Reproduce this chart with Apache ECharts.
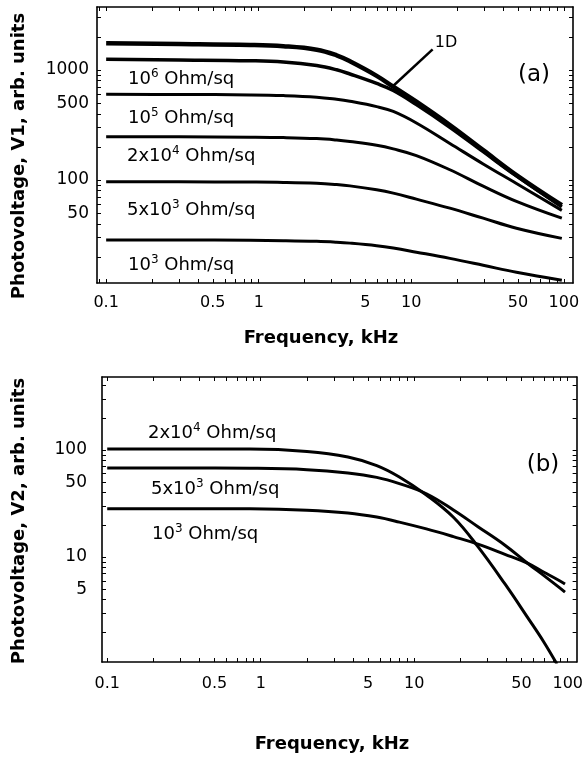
<!DOCTYPE html>
<html>
<head>
<meta charset="utf-8">
<title>Photovoltage vs frequency</title>
<script src="https://cdn.jsdelivr.net/npm/echarts@6/dist/echarts.min.js"></script>
<style>
  html, body { margin: 0; padding: 0; background: #fff; }
  #chart { width: 586px; height: 758px; }
</style>
</head>
<body>
<div id="chart"></div>
<script>
// ---- data (frequency in kHz, photovoltage in arb. units) ----
// panel (a)
const freqA = [0.1, 0.3, 0.88, 1.45, 2.4, 3.24, 3.96, 5.93, 7.62, 10.8, 17.9, 29.6, 48.9, 97];
const a1D   = [1750, 1725, 1690, 1645, 1530, 1360, 1200, 885, 705, 515, 316, 187, 111, 59];
const a1e6  = [1250, 1235, 1215, 1185, 1100, 1005, 920, 755, 652, 485, 302, 181, 109, 57];
const a1e5  = [601, 600, 594, 586, 567, 542, 520, 465, 420, 330, 215, 140, 93, 53];
const a2e4  = [248, 247, 245, 243, 238, 231, 224, 207, 192, 167, 124, 88, 64, 45];
const a5e3  = [96.5, 96.3, 95.8, 95.2, 93.5, 91, 88.5, 81.5, 76, 67, 55.5, 45, 36.5, 29.5];
const a1e3  = [28.5, 28.5, 28.3, 28.1, 27.7, 27.2, 26.7, 25.3, 24.1, 22.1, 19.4, 16.8, 14.5, 12.3];

// panel (b)
const freqB = [0.1, 0.3, 0.85, 2, 3.7, 5.7, 8, 12, 18, 26, 39, 55, 70, 85, 96];
const b2e4  = [102, 102, 102, 97, 86, 71.5, 56, 38, 23.5, 12.5, 5.6, 2.7, 1.6, 1.0, null];
const b5e3  = [68, 68, 67.5, 65.5, 61, 55.5, 48.5, 39, 27.5, 19.2, 12.9, 8.7, 6.7, 5.4, 4.7];
const b1e3  = [28.3, 28.3, 28.2, 27.4, 25.8, 23.6, 21.2, 18.3, 15.5, 13.2, 10.6, 8.7, 7.2, 6.2, 5.6];

// tick labels
const xLabels  = [0.1, 0.5, 1, 5, 10, 50, 100];
const yLabelsA = [50, 100, 500, 1000];
const yLabelsB = [5, 10, 50, 100];

// arrow for "1D" (data units)
const arrowFrom = [13.8, 1540];
const arrowTo   = [7.6, 716];

const FONT = 'DejaVu Sans';
const lg = Math.log10;

// log axes are drawn as linear axes over log10 values
const toPts = (fs, vs) => fs.map((f, i) => vs[i] == null ? null : [lg(f), lg(vs[i])]).filter(p => p);

// minor/major log ticks inside the extent
const logTicks = (lo, hi) => {
  const out = [];
  for (let d = -2; d <= 4; d++) {
    for (let m = 1; m <= 9; m++) {
      const v = lg(m * Math.pow(10, d));
      if (v > lo + 1e-4 && v < hi - 1e-4) out.push(v);
    }
  }
  return out;
};

const fmt = v => String(parseFloat(Math.pow(10, v).toPrecision(3)));

const ext = {
  ax: [-1.06, 2.06], ay: [1.064, 3.573],
  bx: [-1.034, 2.058], by: [0.019, 2.682]
};

const boxLine = { show: true, onZero: false, lineStyle: { color: '#000', width: 1.6 } };

function xAx(grid, range, pos, labels, margin) {
  return {
    type: 'value', gridIndex: grid, position: pos, min: range[0], max: range[1],
    axisLine: boxLine, splitLine: { show: false },
    axisTick: { show: true, inside: true, length: 4, lineStyle: { color: '#000', width: 1 }, customValues: logTicks(range[0], range[1]) },
    axisLabel: labels ? {
      show: true, customValues: xLabels.map(lg), formatter: fmt, margin: margin,
      color: '#000', fontFamily: FONT, fontSize: 16
    } : { show: false }
  };
}

function yAx(grid, range, pos, labels, margin) {
  return {
    type: 'value', gridIndex: grid, position: pos, min: range[0], max: range[1],
    axisLine: boxLine, splitLine: { show: false },
    axisTick: { show: true, inside: true, length: 4, lineStyle: { color: '#000', width: 1 }, customValues: logTicks(range[0], range[1]) },
    axisLabel: labels ? {
      show: true, customValues: labels.map(lg), formatter: fmt, margin: margin,
      color: '#000', fontFamily: FONT, fontSize: 17
    } : { show: false }
  };
}

function curve(xi, yi, fs, vs, w) {
  return {
    type: 'line', xAxisIndex: xi, yAxisIndex: yi, data: toPts(fs, vs),
    showSymbol: false, symbol: 'none', smooth: 0.4, clip: true, silent: true,
    lineStyle: { color: '#000', width: w }
  };
}

// label text with superscript, e.g. ohm('2x10', '4')
const ohm = (base, sup) => '{n|' + base + '}{s|' + sup + '}{n| Ohm/sq}';
const rich = {
  n: { fontFamily: FONT, fontSize: 18, fill: '#000', verticalAlign: 'bottom', lineHeight: 20 },
  s: { fontFamily: FONT, fontSize: 12, fill: '#000', verticalAlign: 'top', lineHeight: 20 }
};
const label = (x, y, text) => ({
  type: 'text', x: x, y: y, silent: true,
  style: { text: text, rich: rich, align: 'left', verticalAlign: 'middle', fill: '#000' }
});
const plain = (x, y, text, size, bold, rot) => ({
  type: 'text', x: x, y: y, rotation: rot || 0, silent: true,
  style: {
    text: text, align: 'center', verticalAlign: 'middle', fill: '#000',
    font: (bold ? 'bold ' : '') + size + 'px "' + FONT + '"'
  }
});

const chart = echarts.init(document.getElementById('chart'));

const option = {
  animation: false,
  backgroundColor: '#fff',
  grid: [
    { left: 97, top: 7, width: 476, height: 276 },
    { left: 102, top: 377, width: 481, height: 285 }
  ],
  xAxis: [
    xAx(0, ext.ax, 'bottom', true, 12),
    xAx(0, ext.ax, 'top', false),
    xAx(1, ext.bx, 'bottom', true, 14),
    xAx(1, ext.bx, 'top', false)
  ],
  yAxis: [
    yAx(0, ext.ay, 'left', yLabelsA, 8),
    yAx(0, ext.ay, 'right', null),
    yAx(1, ext.by, 'left', yLabelsB, 15),
    yAx(1, ext.by, 'right', null)
  ],
  series: [
    Object.assign(curve(0, 0, freqA, a1D, 4.5), {
      markLine: {
        silent: true, symbol: ['none', 'arrow'], symbolSize: [0, 9],
        label: { show: false },
        lineStyle: { color: '#000', width: 2.5, type: 'solid' },
        data: [[{ coord: [lg(arrowFrom[0]), lg(arrowFrom[1])] }, { coord: [lg(arrowTo[0]), lg(arrowTo[1])] }]]
      }
    }),
    curve(0, 0, freqA, a1e6, 3.5),
    curve(0, 0, freqA, a1e5, 3),
    curve(0, 0, freqA, a2e4, 3),
    curve(0, 0, freqA, a5e3, 3),
    curve(0, 0, freqA, a1e3, 3),
    curve(2, 2, freqB, b2e4, 3),
    curve(2, 2, freqB, b5e3, 3),
    curve(2, 2, freqB, b1e3, 3)
  ],
  graphic: [
    // panel (a) annotations
    label(128, 78, ohm('10', '6')),
    label(128, 117, ohm('10', '5')),
    label(127, 155, ohm('2x10', '4')),
    label(127, 209, ohm('5x10', '3')),
    label(128, 264, ohm('10', '3')),
    plain(446, 43, '1D', 16, false),
    plain(534, 75, '(a)', 23, false),
    // panel (b) annotations
    label(148, 432, ohm('2x10', '4')),
    label(151, 488, ohm('5x10', '3')),
    label(152, 533, ohm('10', '3')),
    plain(543, 465, '(b)', 23, false),
    // axis titles
    plain(321, 338, 'Frequency, kHz', 18, true),
    plain(332, 744, 'Frequency, kHz', 18, true),
    plain(19, 156, 'Photovoltage, V1, arb. units', 18, true, Math.PI / 2),
    plain(19, 521, 'Photovoltage, V2, arb. units', 18, true, Math.PI / 2)
  ]
};

chart.setOption(option);
</script>
</body>
</html>
